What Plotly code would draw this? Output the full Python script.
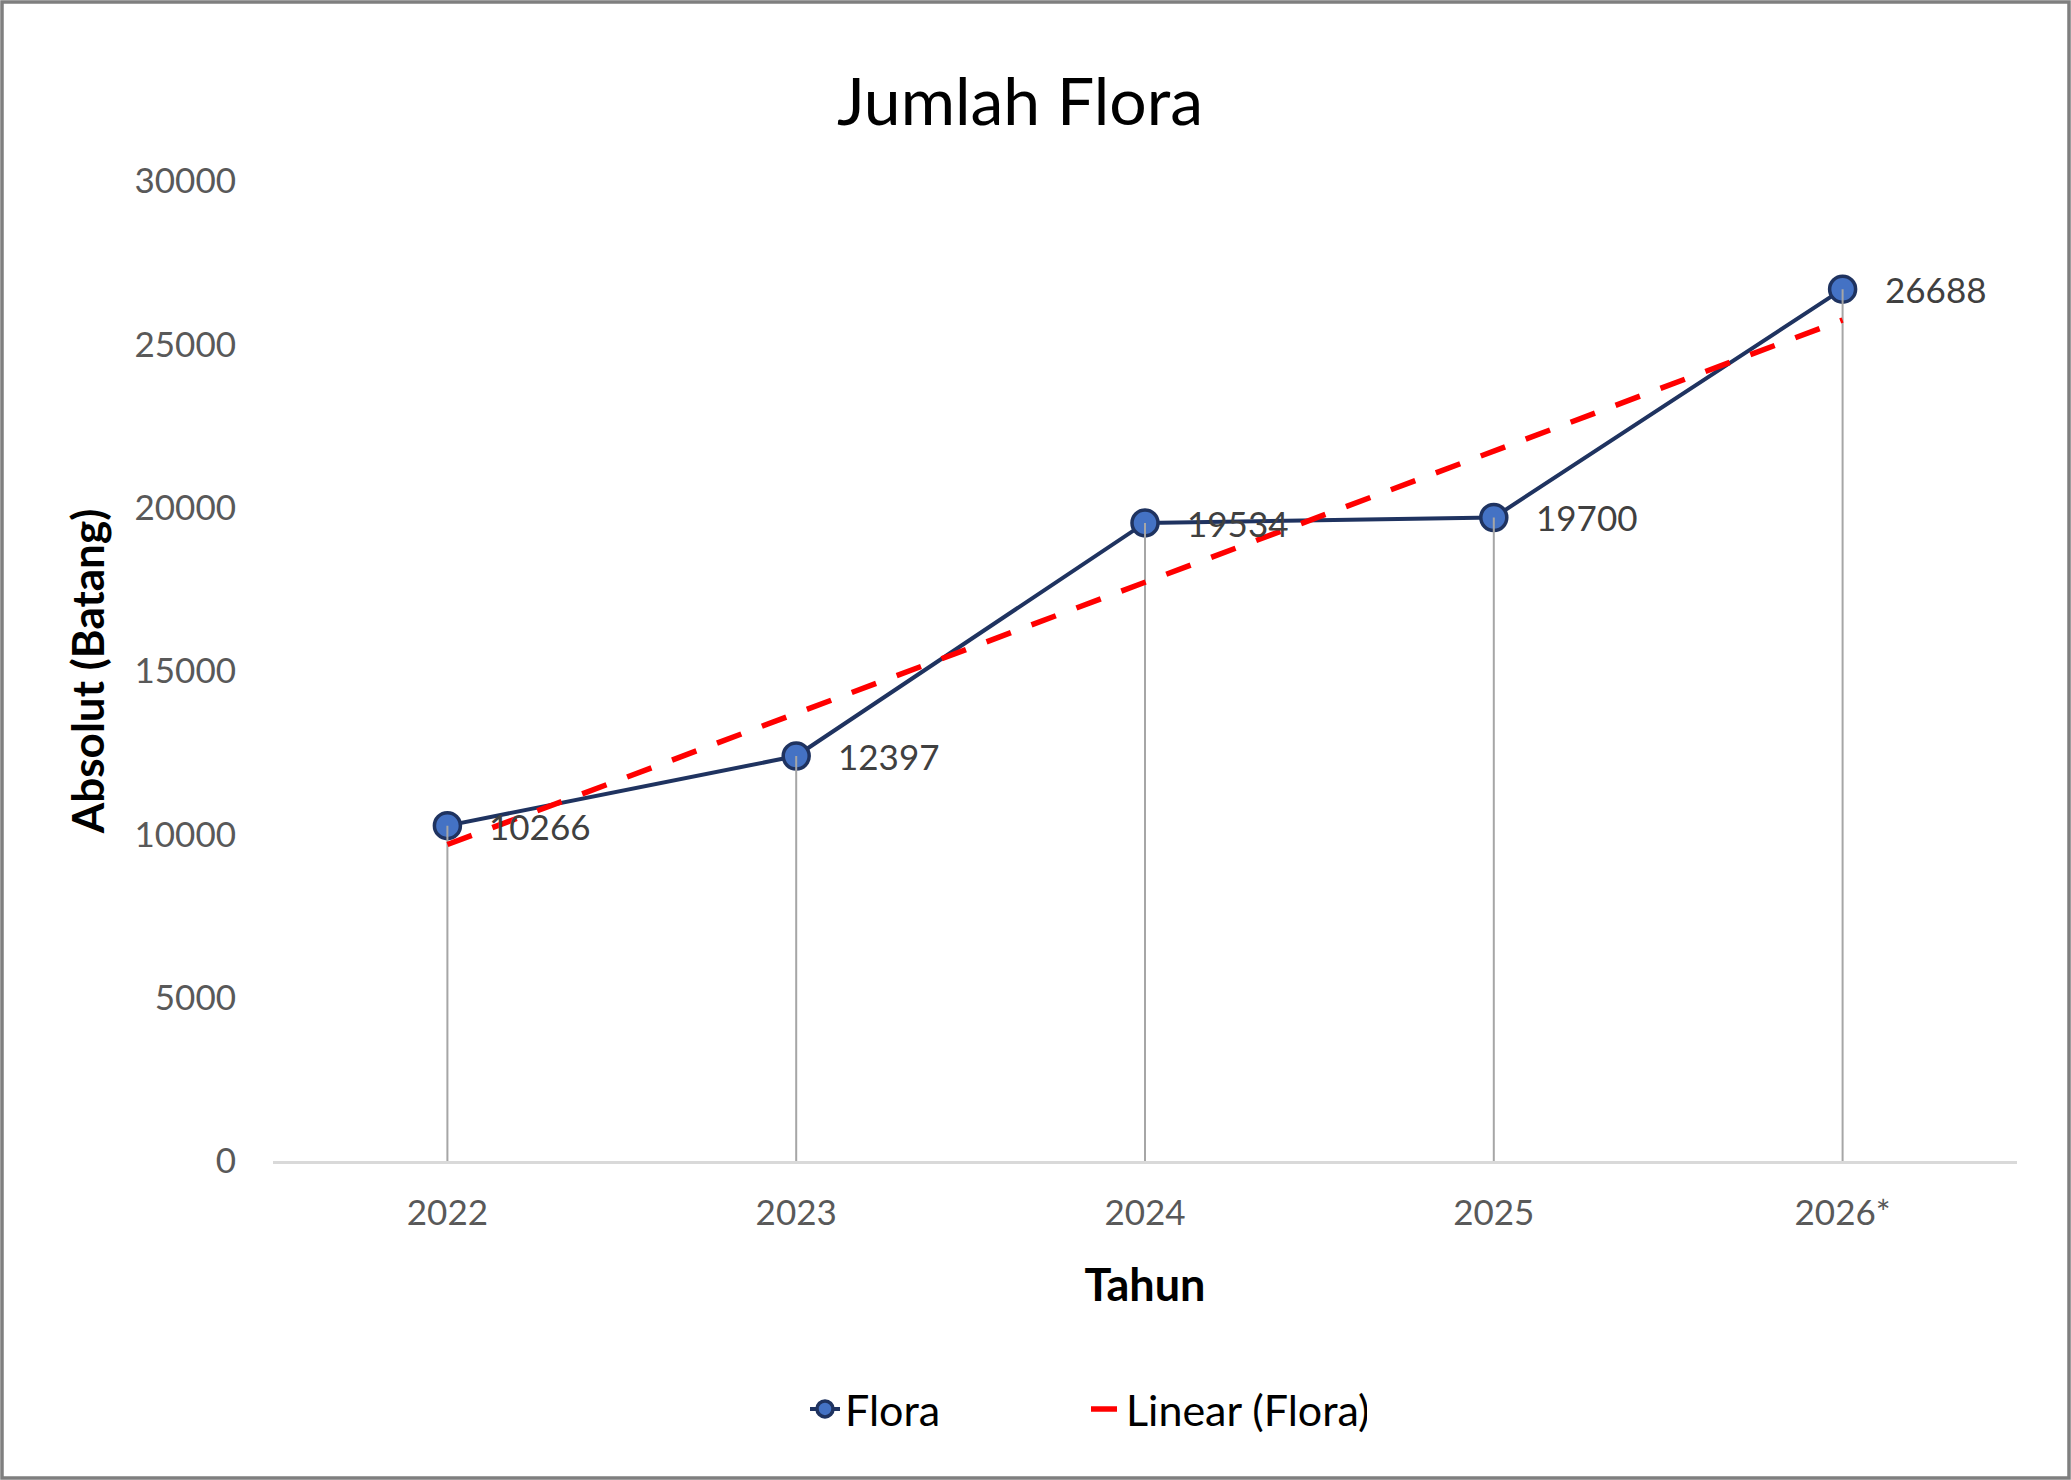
import numpy as np
import plotly.graph_objects as go

# ---- data ----
categories = ["2022", "2023", "2024", "2025", "2026*"]
flora = [10266, 12397, 19534, 19700, 26688]
series_name = "Flora"
trend_name = "Linear (Flora)"
title_text = "Jumlah Flora"
x_title = "Tahun"
y_title = "Absolut (Batang)"
y_ticks = [0, 5000, 10000, 15000, 20000, 25000, 30000]

# ---- layout constants ----
W, H = 2071, 1480
ML, MR, MT, MB = 273, 54, 181, 319
PW, PH = W - ML - MR, H - MT - MB
FONT = "Lato"

# linear trendline (least squares, like Excel)
idx = np.arange(len(flora))
slope, intercept = np.polyfit(idx, flora, 1)
trend_x = [categories[0], categories[-1]]
trend_y = [intercept + slope * idx[0], intercept + slope * idx[-1]]

fig = go.Figure()

# main series
fig.add_trace(go.Scatter(
    x=categories, y=flora, name=series_name, mode="lines+markers",
    line=dict(color="#1F3360", width=4),
    marker=dict(symbol="circle", size=26, color="#4472C4",
                line=dict(color="#1F3360", width=3.5)),
    hoverinfo="x+y",
))

# drop lines
dx, dy = [], []
for c, v in zip(categories, flora):
    dx += [c, c, None]
    dy += [0, v, None]
fig.add_trace(go.Scatter(
    x=dx, y=dy, mode="lines", showlegend=False, hoverinfo="skip",
    line=dict(color="#A6A6A6", width=2),
))

# trendline
fig.add_trace(go.Scatter(
    x=trend_x, y=trend_y, name=trend_name, mode="lines",
    line=dict(color="#FF0000", width=5.5, dash="26px,22px"),
    hoverinfo="skip",
))

# data labels (x given as category index on the category axis)
for i, v in enumerate(flora):
    fig.add_annotation(
        x=i, y=v, text=str(v), showarrow=False, xanchor="left", yanchor="middle",
        xshift=40, font=dict(family=FONT, size=35, color="#404040"),
    )

# chart border
fig.add_shape(
    type="rect", xref="paper", yref="paper",
    x0=(-ML + 2) / PW, x1=(W - ML - 2) / PW,
    y0=(-MB + 2) / PH, y1=1 + (MT - 2) / PH,
    line=dict(color="#7F7F7F", width=3.5), fillcolor="rgba(0,0,0,0)", layer="below",
)

fig.update_layout(
    width=W, height=H,
    margin=dict(l=ML, r=MR, t=MT, b=MB, autoexpand=False),
    paper_bgcolor="white", plot_bgcolor="white",
    font=dict(family=FONT, size=35, color="#595959"),
    title=dict(text=title_text, xref="container", x=1020 / W, xanchor="center",
               yref="container", y=1 - 102 / H, yanchor="middle",
               font=dict(family=FONT, size=66, color="#000000")),
    showlegend=True,
    legend=dict(orientation="h", xref="paper", x=(805 - ML) / PW, xanchor="left",
                yref="paper", y=-(1409 - (H - MB)) / PH, yanchor="middle",
                font=dict(family=FONT, size=43, color="#000000"),
                bgcolor="rgba(0,0,0,0)", entrywidth=236, entrywidthmode="pixels"),
    xaxis=dict(
        type="category", categoryorder="array", categoryarray=categories,
        range=[-0.5, len(categories) - 0.5],
        showline=True, linecolor="#D9D9D9", linewidth=2.5,
        showgrid=False, zeroline=False, ticks="",
        tickfont=dict(family=FONT, size=35, color="#595959"),
        ticklabelstandoff=19,
        title=dict(text="<b>" + x_title + "</b>", standoff=39,
                   font=dict(family=FONT, size=45, color="#000000")),
        automargin=False,
    ),
    yaxis=dict(
        range=[0, 30000], tickvals=y_ticks, ticktext=[str(t) for t in y_ticks],
        showline=False, showgrid=False, zeroline=False, ticks="",
        tickfont=dict(family=FONT, size=35, color="#595959"),
        ticklabelstandoff=36,
        title=dict(text="<b>" + y_title + "</b>", standoff=16,
                   font=dict(family=FONT, size=44, color="#000000")),
        automargin=False,
    ),
)

fig.write_html(
    "out.html",
    config={"displayModeBar": False},
    post_script="document.body.style.margin='0';document.body.style.overflow='hidden';",
)
